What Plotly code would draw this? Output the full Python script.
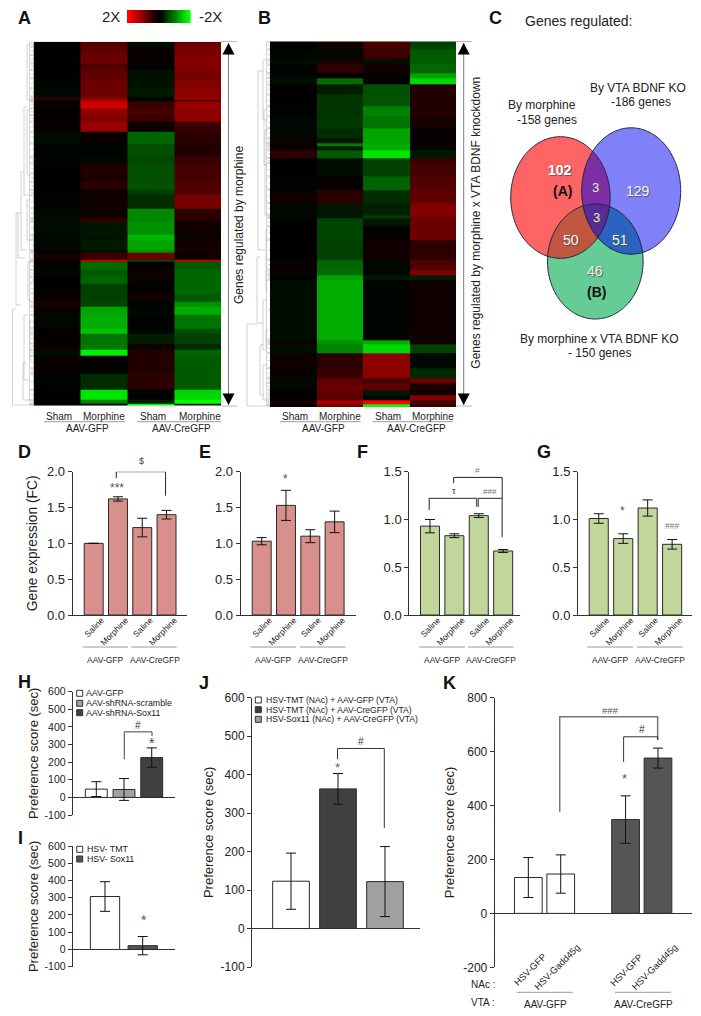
import numpy as np
import plotly.graph_objects as go

W, H = 701, 1016
FONT = "Liberation Sans"
INK = "#222222"

# ---------- heatmap data (row block heights and log-fold values per column) ----------
heat_columns = ["Sham GFP", "Morphine GFP", "Sham CreGFP", "Morphine CreGFP"]
A_rows = [15,25,25,20,25,30,25,10,5,20,20,20,30,35,40,20,30,25,25,15,40,30,10,40,15,
          30,8,20,7,25,20,20,30,25,15,25,40,15,30,20,18,37,15,50,30,12,5]
A_sham = [0,0,.03,.02,0,-.03,-.05,.25,.1,.05,.02,.02,.05,-.08,-.03,-.03,0,.03,0,.02,-.03,-.05,-.08,-.08,-.05,
          -.05,-.02,.1,.1,-.03,-.05,0,.02,.05,.15,.05,-.05,.02,.03,.08,-.1,.05,.05,-.02,0,-.02,0]
A_morph = [.4,.45,.5,.4,.45,.5,.5,.6,.8,.95,.65,.6,.7,.05,-.03,-.05,.2,.15,.25,.05,.1,.1,.3,-.15,-.12,
           -.18,-.1,.3,.9,-.62,-.55,-.6,-.42,-.42,-.45,-.8,-.82,-.88,-.65,-.68,-.97,.02,-.05,-.3,-.95,-.7,0]
A_cre_sham = [-.1,.05,.05,.03,-.12,-.12,-.18,-.05,-.1,.3,.35,.3,.08,-.6,-.5,-.45,-.5,-.5,-.52,-.4,-.3,-.72,-.72,-.75,-.85,
              -.8,-.75,.5,-.45,.02,.07,.05,.03,.1,-.02,-.05,-.02,-.05,-.2,.1,.2,.2,.2,.25,-.03,-.2,-1]
A_cre_morph = [.5,.55,.6,.6,.55,.6,.65,.7,.4,.7,.65,.65,.3,.25,.2,.3,.35,.35,.4,.4,.55,.25,.2,.1,.05,
               .1,.15,.08,.9,-.55,-.6,-.6,-.6,-.55,-.75,-.82,-.65,-.5,-.42,-.3,-.6,-.55,-.55,-.55,-.92,-1,-.15]

B_rows = [25,30,15,25,15,20,30,35,30,35,30,15,10,12,23,15,40,40,40,35,10,25,40,
          60,30,15,15,180,12,28,45,30,15,20,15,15,12,8]
B_sham = [0,-.05,-.08,-.03,-.05,-.1,.02,0,-.03,-.05,-.05,.08,.05,.08,.25,0,0,-.03,.08,-.05,-.05,0,0,
          0,.05,.05,0,-.1,.1,-.1,.08,.05,-.05,-.05,.03,.03,.1,.03]
B_morph = [.1,-.05,.15,.25,.03,-.62,-.2,-.35,-.35,-.38,-.3,-.15,-.68,-.15,-.55,-.08,-.08,.05,.25,-.15,-.15,-.45,-.45,
           -.42,-.6,-.62,-.8,-.82,-.75,-.7,.25,.3,.45,.5,.45,.45,.75,.55]
B_cre_sham = [.35,.3,-.1,.1,.02,.03,-.5,-.52,-.7,-.65,-.8,-.8,-.82,-.82,-.95,-.42,-.42,-.58,-.3,-.22,-.4,-.15,.03,
              .08,-.05,-.05,-.15,-.03,-.82,-.92,.65,.65,.35,.45,-.15,-.05,1,-1]
B_cre_morph = [-.42,-.55,-.55,-.6,-.8,-.92,.2,.2,.2,.12,.05,.03,.08,-.05,-.15,.3,.35,.4,.45,.6,.55,.5,.5,
               .25,.4,.6,-.2,.08,.1,-.42,-.05,-.28,.5,.15,.1,.6,.35,.3]
scale_values = [1,.85,.7,.55,.4,.25,.1,0,-.1,-.25,-.4,-.55,-.7,-.85,-1]

# dendrogram brackets: (x of stem, top, bottom, x of top branch, x of bottom branch)
A_dendro = [(12.5,309,405,16,33),(16,213,305,18,21),(18,213,258,21,25),(21,172,250,24,27),(24,107,195,27,29),
            (27,45,100,30,31),(27,110,175,30,30),(24,315,380,28,29),(23,363,400,26,30),(27,200,240,30,31),
            (28,262,300,31,31),(30,320,360,31,32)]
B_dendro = [(247,324,406,257,270),(257,257,323,260,263),(258,71,250,263,265),(263,60,120,266,267),
            (265,130,215,268,267),(263,300,350,266,267),(260,345,395,263,264),(263,365,400,267,268),
            (266,230,290,268,268),(264,110,165,267,267),(266,330,348,268,268)]

# ---------- venn ----------
venn_sizes = {"morphine": 158, "bdnf": 186, "interaction": 150}
venn_ellipses = {"red": (560.4, 197.5, 49.7, 60.8), "blue": (631.2, 191, 49.5, 63.2), "green": (595.3, 261.5, 47.8, 57.5)}
venn_colors = {"red": "#ff6464", "blue": "#8080f8", "green": "#66cc96"}
venn_overlap = {("red", "blue"): "#7f2fa5", ("red", "green"): "#c05540", ("blue", "green"): "#2a63c0",
                ("red", "blue", "green"): "#5a2a95"}

# ---------- bar data ----------
bar_labels = ["Saline", "Morphine", "Saline", "Morphine"]
D_vals = [1.0, 1.62, 1.22, 1.40];  D_err = [0.0, 0.03, 0.13, 0.06]
E_vals = [1.03, 1.53, 1.10, 1.30]; E_err = [0.05, 0.21, 0.09, 0.15]
F_vals = [0.93, 0.83, 1.04, 0.67]; F_err = [0.07, 0.02, 0.02, 0.015]
G_vals = [1.01, 0.80, 1.12, 0.74]; G_err = [0.05, 0.05, 0.085, 0.05]
H_vals = [47, 45, 226];   H_err = [42, 62, 55]
I_vals = [307, 22];       I_err = [86, 53]
J_vals = [123, 363, 122]; J_err = [73, 40, 91]
K_x = [0, 1, 3, 4]
K_vals = [133, 146, 348, 576]; K_err = [74, 71, 88, 37]
K_labels = ["HSV-GFP", "HSV-Gadd45g", "HSV-GFP", "HSV-Gadd45g"]
score_ticks = [-100, 0, 100, 200, 300, 400, 500, 600]
score_tick_text = ["-100", "0", "100", "200", "300", "400", "500", "600"]
K_ticks = [-200, 0, 200, 400, 600, 800]
K_tick_text = ["-200", "0", "200", "400", "600", "800"]
PINK, GREEN = "#d9908c", "#c2d69b"


def fx(l, r): return [l / W, r / W]
def fy(t, b): return [1 - b / H, 1 - t / H]
def px(x): return x / W
def py(y): return 1 - y / H


fig = go.Figure()
annots, shapes = [], []
axes = {}


def T(text, x, y, size=10, color=INK, bold=False, angle=0, xanchor="center", shadow=None):
    font = dict(size=size, color=color, family=FONT)
    if shadow:
        font["shadow"] = shadow
    annots.append(dict(text=f"<b>{text}</b>" if bold else text, x=px(x), y=py(y), xref="paper", yref="paper",
                       showarrow=False, font=font, textangle=angle, xanchor=xanchor, yanchor="middle",
                       xshift=0, yshift=0, borderpad=0, borderwidth=0))


def L(x0, y0, x1, y1, color="#9a9a9a", width=1):
    shapes.append(dict(type="line", xref="paper", yref="paper", x0=px(x0), x1=px(x1), y0=py(y0), y1=py(y1),
                       line=dict(color=color, width=width)))


def P(path, fill, line="rgba(0,0,0,0)", width=0):
    shapes.append(dict(type="path", xref="paper", yref="paper", path=path, fillcolor=fill,
                       line=dict(color=line, width=width)))


def poly(pts):
    return "M" + "L".join(f"{px(x):.5f},{py(y):.5f}" for x, y in pts) + "Z"


def add_axes(n, dom_x, dom_y, xr, yr, xopts=None, yopts=None):
    s = "" if n == 1 else str(n)
    xo = dict(domain=dom_x, range=xr, anchor=f"y{s}", showgrid=False, zeroline=False, visible=False, automargin=False)
    yo = dict(domain=dom_y, range=yr, anchor=f"x{s}", showgrid=False, zeroline=False, visible=False, automargin=False)
    xo.update(xopts or {}); yo.update(yopts or {})
    axes[f"xaxis{s}"] = xo; axes[f"yaxis{s}"] = yo
    return f"x{s}", f"y{s}"


# colour ramp of the cell blocks (the printed heatmap stays dark at small changes)
def hexg(f): return f"#00{int(round(255 * f)):02x}00"
def hexr(f): return f"#{int(round(255 * f)):02x}0000"


green_stops = [(1, 1), (.9, .8), (.75, .57), (.6, .4), (.45, .27), (.25, .14)]
red_stops = [(.25, .17), (.5, .42), (.7, .6), (.95, .82), (1, 1)]
CS = [[(1 - v) / 2, hexg(f)] for v, f in green_stops] + [[.5, "#000000"]] + [[(1 + v) / 2, hexr(f)] for v, f in red_stops]
CS_BAR = [[0, "#00ff00"], [.5, "#000000"], [1, "#ff0000"]]


def heat(n, l, r, t, b, rows, cols):
    xa, ya = add_axes(n, fx(l, r), fy(t, b), [0, 4], [float(np.sum(rows)), 0])
    edges = np.concatenate([[0], np.cumsum(rows)]).tolist()
    fig.add_trace(go.Heatmap(x=[0, 1, 2, 3, 4], y=edges, z=np.array(cols).T.tolist(), colorscale=CS, zmin=-1, zmax=1,
                             showscale=False, xaxis=xa, yaxis=ya, hoverinfo="skip"))


heat(1, 33.5, 221, 41.7, 405.7, A_rows, [A_sham, A_morph, A_cre_sham, A_cre_morph])
heat(2, 270, 456, 41.3, 407, B_rows, [B_sham, B_morph, B_cre_sham, B_cre_morph])

xa, ya = add_axes(3, fx(127, 190.5), fy(10, 23), [0, len(scale_values)], [0, 1])
fig.add_trace(go.Heatmap(x=list(range(len(scale_values) + 1)), y=[0, 1], z=[scale_values], colorscale=CS_BAR, zmin=-1, zmax=1,
                         zsmooth="best", showscale=False, xaxis=xa, yaxis=ya, hoverinfo="skip"))


def ax_num(size):
    return dict(tickfont=dict(size=size, family=FONT, color=INK), ticks="outside", ticklen=4, tickwidth=1,
                tickcolor="#333", showline=True, linecolor="#333", linewidth=1, visible=True)


def bars(n, l, r, t, b, xr, yr, xs, vals, errs, colors, width, yticks, ytitle=None, standoff=6, size=12,
         ticklab=None, title_size=13):
    xo = dict(visible=True, showline=False, ticks="", showticklabels=False)
    if ticklab:
        xo = dict(visible=True, showline=True, linecolor="#333", linewidth=1, ticks="", tickmode="array", tickvals=xs,
                  ticktext=ticklab, tickangle=-45, tickfont=dict(size=8.5, family=FONT, color=INK),
                  ticklabelshift=8, ticklabelstandoff=-4)
    yo = ax_num(size)
    yo.update(tickmode="array", tickvals=yticks[0], ticktext=yticks[1])
    if yr[0] < 0:
        yo.update(zeroline=True, zerolinecolor="#333", zerolinewidth=1)
    if ytitle:
        yo["title"] = dict(text=ytitle, font=dict(size=title_size, family=FONT, color=INK), standoff=standoff)
    xa, ya = add_axes(n, fx(l, r), fy(t, b), xr, yr, xo, yo)
    fig.add_trace(go.Bar(x=xs, y=vals, width=width, marker=dict(color=colors, line=dict(color="#2a2a2a", width=1)),
                         error_y=dict(type="data", array=errs, symmetric=True, color="#111", thickness=1, width=5),
                         xaxis=xa, yaxis=ya, showlegend=False, hoverinfo="skip", cliponaxis=False))
    return xa, ya


def bracket(axs, xs, ys, color="#222", width=1):
    fig.add_trace(go.Scatter(x=xs, y=ys, mode="lines", line=dict(color=color, width=width), xaxis=axs[0], yaxis=axs[1],
                             showlegend=False, hoverinfo="skip", cliponaxis=False))


X4 = [0, 1, 2, 3]
fc2 = ([0, .5, 1, 1.5, 2], ["0.0", "0.5", "1.0", "1.5", "2.0"])
fc15 = ([0, .5, 1, 1.5], ["0.0", "0.5", "1.0", "1.5"])
sc = (score_ticks, score_tick_text)
aD = bars(4, 72.7, 186.7, 471.7, 615, [-.864, 3.83], [0, 2], X4, D_vals, D_err, PINK, .78, fc2,
          "Gene expression (FC)", 6, 13, bar_labels, 13.8)
aE = bars(5, 240.7, 356, 471.7, 615, [-.864, 3.88], [0, 2], X4, E_vals, E_err, PINK, .78, fc2, None, 6, 13, bar_labels)
aF = bars(6, 409.3, 520, 471.7, 615, [-.848, 3.69], [0, 1.5], X4, F_vals, F_err, GREEN, .78, fc15, None, 6, 13, bar_labels)
aG = bars(7, 578, 691.7, 471.7, 615, [-.848, 3.8], [0, 1.5], X4, G_vals, G_err, GREEN, .78, fc15, None, 6, 13, bar_labels)
aH = bars(8, 72.7, 175, 691.7, 815, [-.852, 2.84], [-100, 600], [0, 1, 2], H_vals, H_err, ["#ffffff", "#a0a0a0", "#404040"],
          .79, sc, "Preference score (sec)", 3, 10.5, None, 13)
aI = bars(9, 72.7, 175, 846, 966.7, [-.857, 1.857], [-100, 600], [0, 1], I_vals, I_err, ["#ffffff", "#555555"],
          .777, sc, "Preference score (sec)", 3, 10.5, None, 13)
aJ = bars(10, 252, 420, 697.7, 967, [-.83, 2.745], [-100, 600], [0, 1, 2], J_vals, J_err, ["#ffffff", "#404040", "#a0a0a0"],
          .78, sc, "Preference score (sec)", 4, 12, None, 13)
aK = bars(11, 494.7, 691.7, 697.7, 967.3, [-1.037, 5.04], [-200, 800], K_x, K_vals, K_err,
          ["#ffffff", "#ffffff", "#555555", "#555555"], .855, (K_ticks, K_tick_text), "Preference score (sec)", 5, 12, None, 13)

bracket(aD, [.93, .93, 2.96, 2.96], [1.91, 2.0, 2.0, 1.665])
bracket(aF, [-.03, -.03, 1.91, 1.91], [1.10, 1.22, 1.22, 1.134], "#555", 1.3)
bracket(aF, [1.98, 1.98, 2.96, 2.96], [1.134, 1.22, 1.22, .813], "#555", 1.3)
bracket(aF, [.97, .97, 2.96, 2.96], [1.38, 1.44, 1.44, 1.22])
bracket(aH, [1.01, 1.01, 2.01, 2.01], [216, 372, 372, 348], "#444")
bracket(aJ, [.99, .99, 1.985, 1.985], [440, 468, 468, 261], "#333")
bracket(aK, [.97, .97, 3.99, 3.99], [377, 729, 729, 643], "#777", 1.5)
bracket(aK, [2.94, 2.94, 3.99, 3.99], [562, 655, 655, 643], "#333")

# ---------- overlay (pixel space) for dendrograms ----------
xo, yo = add_axes(12, [0, 1], [0, 1], [0, W], [H, 0])


def dendro(brackets, rows, x_heat, comb, top):
    xs, ys = [], []
    for x, y0, y1, xa_, xb_ in brackets:
        xs += [xa_, x, x, xb_, None]; ys += [y0, y0, y1, y1, None]
    edges = top + np.cumsum([0] + list(rows)) / 3
    for a, b in zip(edges[:-1], edges[1:]):
        xs += [x_heat, comb, comb, x_heat, None]; ys += [a + .6, a + .6, b - .6, b - .6, None]
        xs += [comb + 1.5, x_heat, None]; ys += [(a + b) / 2, (a + b) / 2, None]
    fig.add_trace(go.Scatter(x=xs, y=ys, mode="lines", line=dict(color="#b4b4b4", width=.6), xaxis=xo, yaxis=yo,
                             showlegend=False, hoverinfo="skip"))


dendro(A_dendro, A_rows, 33.5, 29.5, 41.7)
dendro(B_dendro, B_rows, 270, 266.5, 41.3)

# ---------- venn shapes ----------
th = np.linspace(0, 2 * np.pi, 241)[:-1]


def ell(c):
    cx, cy, a, b = venn_ellipses[c]
    return np.c_[cx + a * np.cos(th), cy + b * np.sin(th)]


def inside(pts, c):
    cx, cy, a, b = venn_ellipses[c]
    return ((pts[:, 0] - cx) / a) ** 2 + ((pts[:, 1] - cy) / b) ** 2 <= 1


for c in venn_colors:
    P(poly(ell(c)), venn_colors[c])
for combo, col in venn_overlap.items():
    pts = []
    for c in combo:
        e = ell(c)
        mask = np.ones(len(e), bool)
        for o in combo:
            if o != c:
                mask &= inside(e, o)
        pts.append(e[mask])
    pts = np.vstack(pts)
    ctr = pts.mean(axis=0)
    pts = pts[np.argsort(np.arctan2(pts[:, 1] - ctr[1], pts[:, 0] - ctr[0]))]
    P(poly(pts), col)
for c in venn_colors:
    P(poly(ell(c)), "rgba(0,0,0,0)", "#1c2440", 1)

# ---------- arrows for heatmaps ----------
for x_line, r_edge in ((228.5, 221), (463.7, 456)):
    L(x_line, 43, x_line, 405, "#7a7a7a", 1)
    L(r_edge, 41.5, r_edge + 16, 41.5, "#aaaaaa", .8)
    L(r_edge, 406, r_edge + 16, 406, "#aaaaaa", .8)
    P(poly([(x_line, 43), (x_line - 6, 54.5), (x_line + 6, 54.5)]), "#000000")
    P(poly([(x_line, 405), (x_line - 6, 393.5), (x_line + 6, 393.5)]), "#000000")

T("Genes regulated by morphine", 239, 225, 12, angle=-90)
T("Genes regulated by morphine x VTA BDNF knockdown", 476, 222.7, 12, angle=-90)

# heatmap group labels
for xs_, l1, l2, g in (([59.3, 104.3, 152.7, 200.3], (44, 125), (137, 220.7), (87.7, 181.3)),
                       ([294.7, 340, 388.3, 433.3], (280, 360.7), (372.7, 452.7), (323, 416.3))):
    for x_, s in zip(xs_, ["Sham", "Morphine", "Sham", "Morphine"]):
        T(s, x_, 416.7, 10)
    L(l1[0], 421.7, l1[1], 421.7); L(l2[0], 421.7, l2[1], 421.7)
    T("AAV-GFP", g[0], 428.7, 10); T("AAV-CreGFP", g[1], 428.7, 10)

T("2X", 111, 17, 15); T("-2X", 210, 17, 15)

# panel letters
for s, x_, y_ in (("A", 24, 18), ("B", 264, 18), ("C", 495, 18), ("D", 24, 452), ("E", 205, 452), ("F", 362, 452),
                  ("G", 544, 452), ("H", 24, 682), ("I", 20, 838), ("J", 204, 683), ("K", 449, 683)):
    T(s, x_, y_, 18, "#111", True)

# venn text
SH = "1px 1px 1px #555555"
T("Genes regulated:", 578, 21, 14)
T("By VTA BDNF KO", 637.7, 88, 12); T(f"-{venn_sizes['bdnf']} genes", 641, 102.3, 12)
T("By morphine", 542.3, 105.3, 12); T(f"-{venn_sizes['morphine']} genes", 547.3, 120, 12)
T("By morphine x VTA BDNF KO", 599.3, 338.7, 12); T(f"- {venn_sizes['interaction']} genes", 599.3, 353.3, 12)
T("102", 560, 170, 14, "#ffffff", True, shadow=SH); T("(A)", 562, 191, 14, "#111", True)
T("3", 595.5, 187, 13, "#e8e8e8", shadow=SH); T("3", 596, 217.5, 13, "#e8e8e8", shadow=SH)
T("129", 638, 191, 14, "#f4f4f4", shadow=SH); T("50", 571, 240, 14, "#f4f4f4", shadow=SH)
T("51", 620, 239.5, 14, "#f4f4f4", shadow=SH); T("46", 595, 271, 14, "#f4f4f4", shadow=SH)
T("(B)", 596, 292, 14, "#111", True)

# D-G annotations and group lines
for g1, g2, c1, c2 in (((82.7, 128), (131, 176.7), 105, 155), ((250.5, 296), (300, 345.5), 273, 323),
                       ((419, 465), (468, 513.5), 442, 491), ((587.5, 633), (637, 682.5), 610, 660)):
    L(g1[0], 647, g1[1], 647); L(g2[0], 647, g2[1], 647)
    T("AAV-GFP", c1, 659.5, 8.5); T("AAV-CreGFP", c2, 659.5, 8.5)
T("$", 141.5, 461, 9, "#444"); T("***", 117, 488, 12, "#555")
T("*", 285.5, 479, 12, "#555")
T("τ", 453.7, 491, 9, "#333"); T("###", 490, 491.3, 8, "#777"); T("#", 477.3, 470.7, 8, "#777")
T("*", 622, 511, 12, "#555"); T("###", 671.7, 526, 8.5, "#777")

# H, I, J legends and marks
for y_, c, s in ((693.3, "#ffffff", "AAV-GFP"), (703.3, "#a0a0a0", "AAV-shRNA-scramble"), (712.7, "#404040", "AAV-shRNA-Sox11")):
    shapes.append(dict(type="rect", xref="paper", yref="paper", x0=px(76.7), x1=px(82.7), y0=py(y_ - 3), y1=py(y_ + 3),
                       fillcolor=c, line=dict(color="#333", width=1)))
    T(s, 86, y_, 8.8, xanchor="left")
for y_, c, s in ((849.3, "#ffffff", "HSV- TMT"), (859, "#555555", "HSV- Sox11")):
    shapes.append(dict(type="rect", xref="paper", yref="paper", x0=px(76.7), x1=px(82.7), y0=py(y_ - 3), y1=py(y_ + 3),
                       fillcolor=c, line=dict(color="#333", width=1)))
    T(s, 86.7, y_, 8.8, xanchor="left")
for y_, c, s in ((700, "#ffffff", "HSV-TMT (NAc) + AAV-GFP (VTA)"), (709.7, "#404040", "HSV-TMT (NAc) + AAV-CreGFP (VTA)"),
                 (719.3, "#a0a0a0", "HSV-Sox11 (NAc) + AAV-CreGFP (VTA)")):
    shapes.append(dict(type="rect", xref="paper", yref="paper", x0=px(255.3), x1=px(261.3), y0=py(y_ - 3), y1=py(y_ + 3),
                       fillcolor=c, line=dict(color="#333", width=1)))
    T(s, 265.7, y_, 8.6, xanchor="left")
T("#", 137.7, 725.7, 10, "#333"); T("*", 151.7, 743, 14, "#444")
T("*", 143.7, 920, 14, "#555")
T("#", 360.7, 741.7, 10, "#333"); T("*", 337, 767, 13, "#666")

# K labels
for x_, y_, s in ((530, 970, K_labels[0]), (557.3, 966.7, K_labels[1]), (626.7, 970, K_labels[2]), (655, 967.3, K_labels[3])):
    T(s, x_, y_, 9.3, angle=-45)
L(516.7, 992.3, 572.7, 992.3); L(615, 992.3, 670.7, 992.3)
T("NAc :", 482.7, 984.3, 10); T("VTA :", 482.7, 1002.7, 10)
T("AAV-GFP", 545, 1004, 10); T("AAV-CreGFP", 643.3, 1004, 10)
T("###", 610, 710, 9.5, "#555"); T("#", 641.7, 729.3, 10, "#333"); T("*", 624.3, 778, 13, "#555")

fig.update_layout(width=W, height=H, margin=dict(l=0, r=0, t=0, b=0, autoexpand=False), paper_bgcolor="white",
                  plot_bgcolor="rgba(0,0,0,0)",
                  showlegend=False, annotations=annots, shapes=shapes, font=dict(family=FONT, color=INK), **axes)
fig.write_html("out.html", config=dict(displayModeBar=False), post_script="document.body.style.margin='0';")
